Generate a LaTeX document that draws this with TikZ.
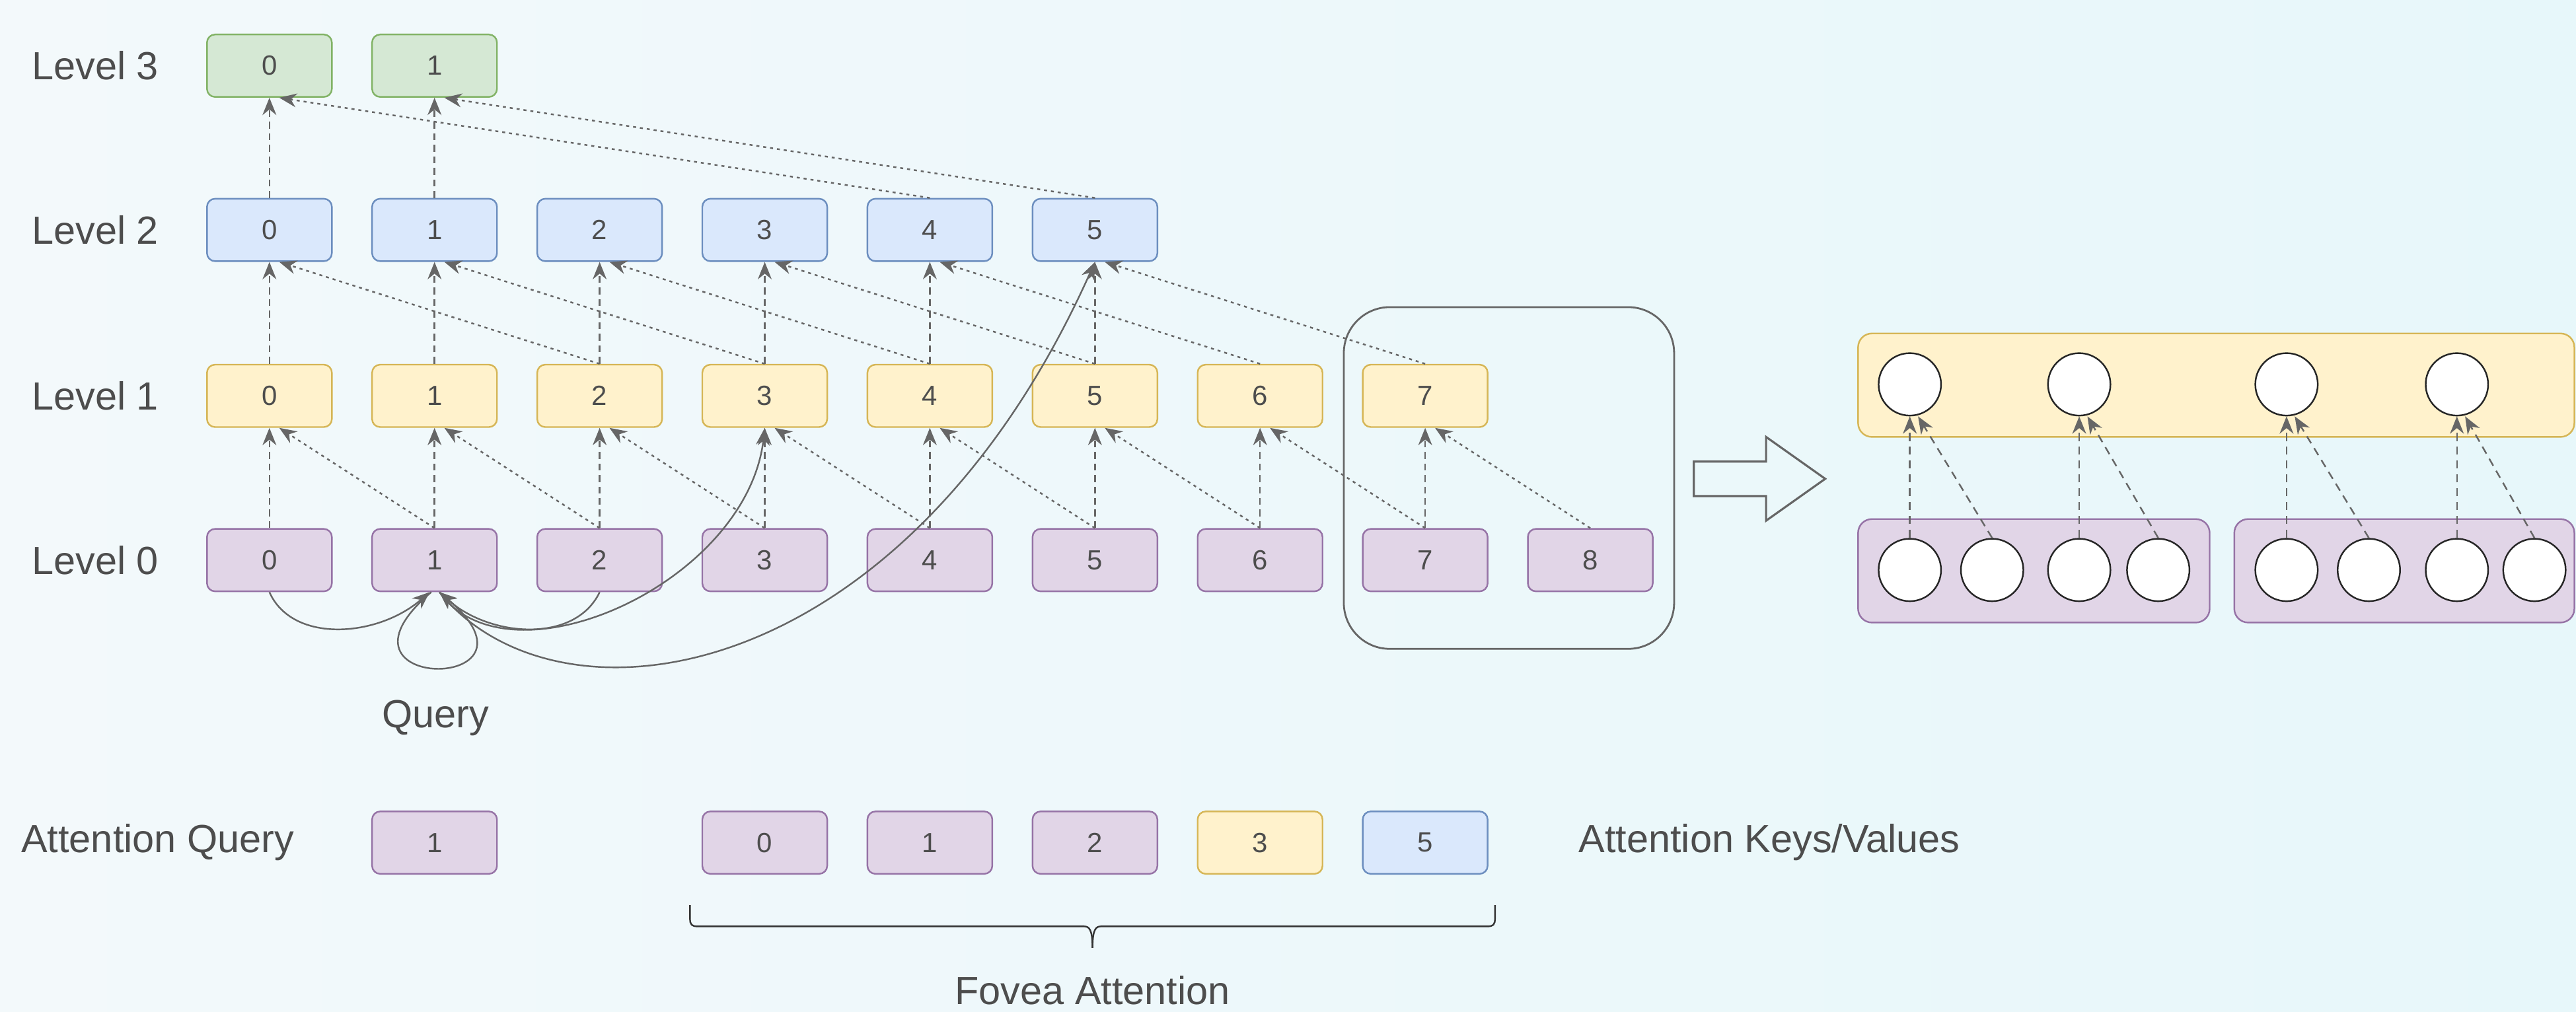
\documentclass[tikz,border=0pt]{standalone}
\usepackage{fontspec}
\setmainfont{Liberation Sans}
\usetikzlibrary{calc,arrows.meta}
\definecolor{bgL}{HTML}{F3F9FB}
\definecolor{bgR}{HTML}{E7F7FA}
\definecolor{gfill}{HTML}{D5E8D4}\definecolor{gdraw}{HTML}{82B366}
\definecolor{bfill}{HTML}{DAE8FC}\definecolor{bdraw}{HTML}{6C8EBF}
\definecolor{yfill}{HTML}{FFF2CC}\definecolor{ydraw}{HTML}{D6B656}
\definecolor{pfill}{HTML}{E1D5E7}\definecolor{pdraw}{HTML}{9673A6}
\definecolor{edgec}{HTML}{666666}
\definecolor{txt}{HTML}{4D4D4D}
\tikzset{
  cell/.style={rectangle, rounded corners=3.5pt, minimum width=1.9cm, minimum height=0.95cm,
    inner sep=0pt, font=\fontsize{12}{14}\selectfont, text=txt, line width=0.7pt},
  gcell/.style={cell, fill=gfill, draw=gdraw},
  bcell/.style={cell, fill=bfill, draw=bdraw},
  ycell/.style={cell, fill=yfill, draw=ydraw},
  pcell/.style={cell, fill=pfill, draw=pdraw},
  lab/.style={font=\fontsize{17}{20}\selectfont, text=txt, inner sep=0pt},
  tip/.style={-{Stealth[length=7.5pt,width=6pt]}},
  vlink/.style={draw=edgec, line width=0.7pt, dash pattern=on 3pt off 2pt, tip},
  dlink/.style={draw=edgec, line width=0.7pt, dash pattern=on 1.3pt off 1.7pt, tip},
  rvlink/.style={draw=edgec, line width=0.7pt, dash pattern=on 3.5pt off 2.5pt, tip},
  qlink/.style={draw=edgec, line width=0.7pt, tip},
  dot/.style={circle, minimum size=0.95cm, inner sep=0pt, fill=white, draw=black!85, line width=0.7pt},
  panel/.style={rounded corners=6pt, line width=0.7pt},
}
\begin{document}
\begin{tikzpicture}[x=0.025cm,y=-0.025cm]
\useasboundingbox (0,0) rectangle (1568,616);
\shade[left color=bgL, right color=bgR] (0,0) rectangle (1568,616);

% level labels
\node[lab] (l3) at (58,40) {Level 3};
\node[lab] (l2) at (58,140) {Level 2};
\node[lab] (l1) at (58,241) {Level 1};
\node[lab] (l0) at (58,341) {Level 0};

% fovea window
\node[draw=edgec, line width=0.8pt, rounded corners=0.7cm, minimum width=5.025cm, minimum height=5.2cm, inner sep=0pt] (win) at (918.5,291) {};

% cells
\foreach \i in {0,...,8}{\node[pcell] (a\i) at ({164+100.5*\i},341) {\i};}
\foreach \i in {0,...,7}{\node[ycell] (b\i) at ({164+100.5*\i},241) {\i};}
\foreach \i in {0,...,5}{\node[bcell] (c\i) at ({164+100.5*\i},140) {\i};}
\foreach \i in {0,1}{\node[gcell] (d\i) at ({164+100.5*\i},40) {\i};}

% level 0 -> 1
\foreach \i in {0,...,7}{
  \pgfmathtruncatemacro\j{\i+1}
  \draw[vlink] (a\i.north) -- (b\i.south);
  \draw[dlink] (a\j.north) -- ($(b\i.south)+(6,0)$);
}
% level 1 -> 2
\foreach \i in {0,...,5}{
  \pgfmathtruncatemacro\j{\i+2}
  \draw[vlink] (b\i.north) -- (c\i.south);
  \draw[dlink] (b\j.north) -- ($(c\i.south)+(6,0)$);
}
% level 2 -> 3
\foreach \i in {0,1}{
  \pgfmathtruncatemacro\j{\i+4}
  \draw[vlink] (c\i.north) -- (d\i.south);
  \draw[dlink] (c\j.north) -- ($(d\i.south)+(6,0)$);
}

% query connections
\draw[qlink] (a0.south) .. controls (178,392) and (230,388) .. ($(a1.south)+(-3,0)$);
\draw[qlink] (a2.south) .. controls (350,392) and (298,388) .. ($(a1.south)+(3,0)$);
\draw[qlink] ($(a1.south)+(-2,0)$) .. controls (190,422) and (340,422) .. ($(a1.south)+(3,0)$);
\draw[qlink] ($(a1.south)+(3,0)$) .. controls (310,420) and (455,355) .. (b3.south);
\draw[qlink] ($(a1.south)+(3,0)$) .. controls (340,450) and (550,420) .. (c5.south);
\node[lab] (qlab) at (265,437) {Query};

% block arrow
\draw[draw=edgec, line width=0.9pt] (1031,281) -- (1075,281) -- (1075,266) -- (1111,291.5) -- (1075,317) -- (1075,302) -- (1031,302) -- cycle;

% right panel
\draw[panel, fill=yfill, draw=ydraw] (1131,203) rectangle (1567,266);
\draw[panel, fill=pfill, draw=pdraw] (1131,316) rectangle (1345,379);
\draw[panel, fill=pfill, draw=pdraw] (1360,316) rectangle (1567,379);
\foreach \x [count=\i from 0] in {1162.5,1265.6,1391.8,1495.5}{\node[dot] (t\i) at (\x,234) {};}
\foreach \x [count=\i from 0] in {1162.5,1212.6,1265.6,1313.7,1391.8,1441.9,1495.5,1542.7}{\node[dot] (u\i) at (\x,347) {};}
\foreach \i in {0,...,3}{
  \pgfmathtruncatemacro\p{2*\i}
  \pgfmathtruncatemacro\q{2*\i+1}
  \draw[rvlink] (u\p.north) -- (t\i.south);
  \draw[rvlink] (u\q.north) -- ($(t\i.south)+(5,0)$);
}

% attention row
\node[lab] (aq) at (96,513) {Attention Query};
\node[pcell] (q1) at (264.5,513) {1};
\node[pcell] (kv0) at (465.5,513) {0};
\node[pcell] (kv1) at (566,513) {1};
\node[pcell] (kv2) at (666.5,513) {2};
\node[ycell] (kv3) at (767,513) {3};
\node[bcell] (kv5) at (867.5,513) {5};
\node[lab] (akv) at (1077,513) {Attention Keys/Values};

% brace
\draw[black!80, line width=0.7pt] (420,551) -- (420,559) .. controls (420,563) and (421,564) .. (425,564) -- (660,564) .. controls (663,564) and (665,566) .. (665,577);
\draw[black!80, line width=0.7pt] (910,551) -- (910,559) .. controls (910,563) and (909,564) .. (905,564) -- (670,564) .. controls (667,564) and (665,566) .. (665,577);
\node[lab] (fa) at (665,603) {Fovea Attention};
\end{tikzpicture}
\end{document}
